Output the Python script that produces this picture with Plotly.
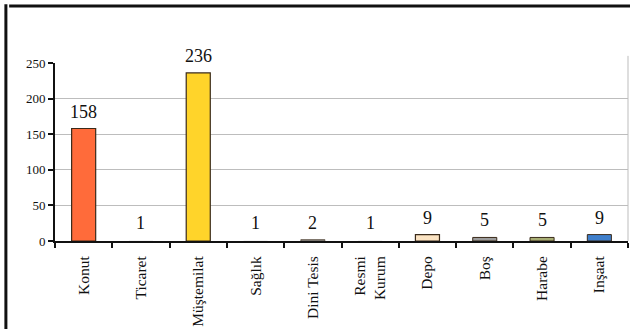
import plotly.graph_objects as go

# Building use categories and counts
categories = ["Konut", "Ticaret", "Müştemilat", "Sağlık", "Dini Tesis",
              "Resmi<br>Kurum", "Depo", "Boş", "Harabe", "Inşaat"]
counts = [158, 1, 236, 1, 2, 1, 9, 5, 5, 9]
bar_colors = ["#FF6B3A", "#F4F4F4", "#FFD42A", "#F4F4F4", "#9A9A9A",
              "#F4F4F4", "#FBE3C2", "#9C9C9C", "#A8AE74", "#3F7FCC"]
outline_widths = [1.2, 0, 1.2, 0, 0.6, 0, 1.2, 1, 1, 1]
y_ticks = [0, 50, 100, 150, 200, 250]

serif = "Liberation Serif"

fig = go.Figure()
fig.add_trace(go.Bar(
    x=categories,
    y=counts,
    marker=dict(color=bar_colors,
                line=dict(color="#3A2A1A", width=outline_widths)),
    width=0.42,
    showlegend=False,
))

# Value labels above each bar
for cat, val in zip(categories, counts):
    fig.add_annotation(
        x=cat, y=val, text=str(val), showarrow=False,
        yanchor="bottom", yshift=5,
        font=dict(family=serif, size=18, color="#111111"),
    )

fig.update_layout(
    width=630, height=329,
    margin=dict(l=55, r=2, t=63, b=88),
    paper_bgcolor="white",
    plot_bgcolor="white",
    font=dict(family=serif),
    xaxis=dict(
        type="category",
        automargin=False,
        showline=True, linecolor="#111111", linewidth=2,
        ticks="outside", ticklen=5, tickcolor="#111111", tickwidth=2,
        tickson="boundaries",
        tickangle=-90,
        ticklabelstandoff=7,
        tickfont=dict(family=serif, size=15.5, color="#111111"),
        showgrid=False,
    ),
    yaxis=dict(
        range=[0, 250],
        automargin=False,
        tickvals=y_ticks,
        showline=True, linecolor="#111111", linewidth=2,
        ticks="outside", ticklen=5, tickcolor="#111111", tickwidth=2,
        tickfont=dict(family=serif, size=13, color="#111111"),
        showgrid=True, gridcolor="#BDBDBD", gridwidth=1,
        zeroline=False,
    ),
    shapes=[
        # outer chart frame
        dict(type="line", xref="paper", yref="paper",
             x0=-0.08, x1=1.01, y0=1.32, y1=1.32,
             line=dict(color="#111111", width=3)),
        dict(type="line", xref="paper", yref="paper",
             x0=-0.0857, x1=-0.0857, y0=1.33, y1=-0.6,
             line=dict(color="#111111", width=3)),
        # light right border of the plot area
        dict(type="line", xref="paper", yref="paper",
             x0=1, x1=1, y0=0, y1=1.04,
             line=dict(color="#BDBDBD", width=1)),
    ],
)

fig.write_html("out.html")
